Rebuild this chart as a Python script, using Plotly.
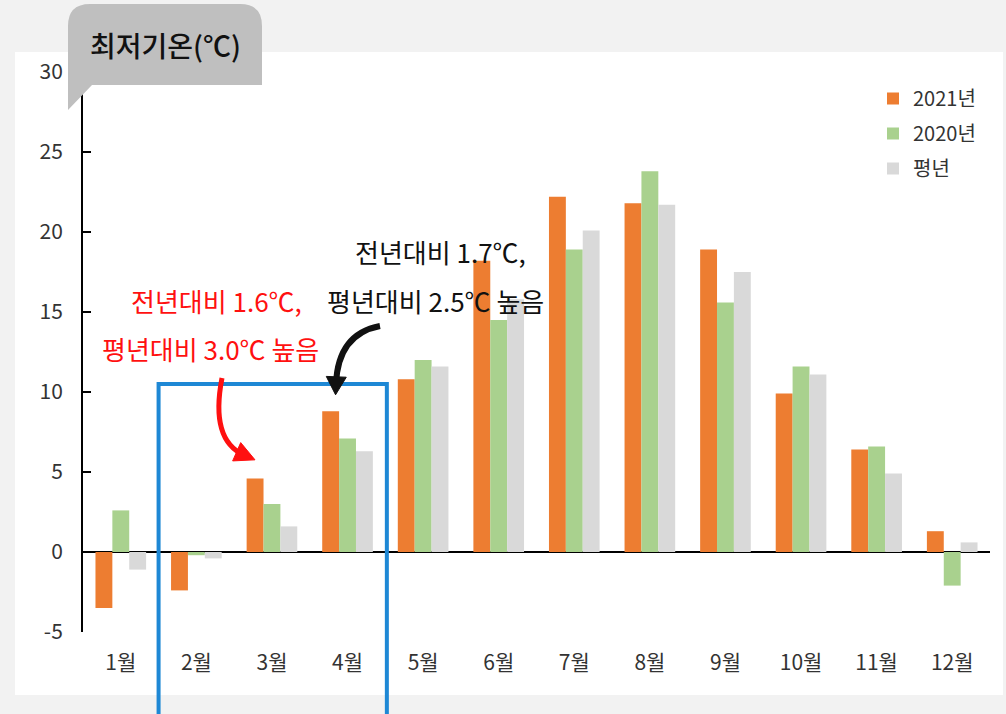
import plotly.graph_objects as go

# Monthly mean minimum temperature (°C)
months = ["1월", "2월", "3월", "4월", "5월", "6월", "7월", "8월", "9월", "10월", "11월", "12월"]
y2021 = [-3.5, -2.4, 4.6, 8.8, 10.8, 18.2, 22.2, 21.8, 18.9, 9.9, 6.4, 1.3]
y2020 = [2.6, -0.2, 3.0, 7.1, 12.0, 14.5, 18.9, 23.8, 15.6, 11.6, 6.6, -2.1]
normal = [-1.1, -0.4, 1.6, 6.3, 11.6, 15.8, 20.1, 21.7, 17.5, 11.1, 4.9, 0.6]

series_names = ["2021년", "2020년", "평년"]
colors = ["#ED7D31", "#A9D18E", "#D9D9D9"]
y_ticks = [-5, 0, 5, 10, 15, 20, 25, 30]

FONT = "Noto Sans CJK KR"
W, H = 1006, 714
ML, MR, MT, MB = 83, 16, 72, 82
PW, PH = W - ML - MR, H - MT - MB


def px(x):
    return (x - ML) / PW


def py(y):
    return (H - MB - y) / PH


fig = go.Figure()
for i, (name, vals) in enumerate(zip(series_names, [y2021, y2020, normal])):
    fig.add_trace(go.Bar(
        x=months, y=vals, name=name, marker_color=colors[i],
        marker_line_width=0, legendgroup=name,
    ))

shapes = []
# white panel behind the chart
shapes.append(dict(type="rect", xref="paper", yref="paper", layer="below",
                   x0=px(15), x1=px(1003), y0=py(695), y1=py(52),
                   fillcolor="white", line_width=0))

# speech-bubble title box
bubble = (f"M {px(262)},{py(85)} L {px(92)},{py(85)} L {px(68)},{py(110)} "
          f"L {px(68)},{py(26)} Q {px(68)},{py(4)} {px(90)},{py(4)} "
          f"L {px(240)},{py(4)} Q {px(262)},{py(4)} {px(262)},{py(26)} Z")
shapes.append(dict(type="path", xref="paper", yref="paper", path=bubble,
                   fillcolor="#BFBFBF", line_width=0))

# highlight box around Feb-Apr
shapes.append(dict(type="rect", xref="x", yref="paper",
                   x0=0.5, x1=3.52, y0=py(730), y1=py(384),
                   line=dict(color="#1E88D5", width=4), fillcolor="rgba(0,0,0,0)"))


def curved_arrow(p0, c, p1, color, width, head_len, head_w):
    path = f"M {px(p0[0])},{py(p0[1])} Q {px(c[0])},{py(c[1])} {px(p1[0])},{py(p1[1])}"
    out = [dict(type="path", xref="paper", yref="paper", path=path,
                line=dict(color=color, width=width))]
    dx, dy = p1[0] - c[0], p1[1] - c[1]
    n = (dx * dx + dy * dy) ** 0.5
    ux, uy = dx / n, dy / n
    tip = (p1[0] + ux * head_len * 0.6, p1[1] + uy * head_len * 0.6)
    base = (tip[0] - ux * head_len, tip[1] - uy * head_len)
    l = (base[0] - uy * head_w, base[1] + ux * head_w)
    r = (base[0] + uy * head_w, base[1] - ux * head_w)
    head = (f"M {px(tip[0])},{py(tip[1])} L {px(l[0])},{py(l[1])} "
            f"L {px(r[0])},{py(r[1])} Z")
    out.append(dict(type="path", xref="paper", yref="paper", path=head,
                    fillcolor=color, line=dict(color=color, width=1)))
    return out


shapes += curved_arrow((222, 378), (210, 440), (244, 455), "#FF1010", 5, 20, 10)
shapes += curved_arrow((380, 326), (338, 334), (336, 384), "#111111", 6, 18, 10)


def label(text, x, y, size, color, weight="normal"):
    return dict(text=text, x=px(x), y=py(y), xref="paper", yref="paper",
                xanchor="center", yanchor="middle", showarrow=False,
                font=dict(family=FONT, size=size, color=color, weight=weight))


annotations = [
    label("최저기온(℃)", 165, 45, 28, "#111111", 500),
    label("전년대비 1.6℃,", 216, 300, 26, "#FF1010"),
    label("평년대비 3.0℃ 높음", 210, 348, 26, "#FF1010"),
    label("전년대비 1.7℃,", 440, 252, 26, "#111111"),
    label("평년대비 2.5℃ 높음", 435, 300, 26, "#111111"),
]

fig.update_layout(
    width=W, height=H,
    margin=dict(l=ML, r=MR, t=MT, b=MB, pad=0),
    paper_bgcolor="#F2F2F2", plot_bgcolor="white",
    barmode="group", bargap=0.33, bargroupgap=0,
    font=dict(family=FONT, size=20, color="#333333"),
    shapes=shapes, annotations=annotations,
    legend=dict(x=px(873), y=py(79), xanchor="left", yanchor="top",
                bgcolor="rgba(0,0,0,0)", traceorder="grouped",
                tracegroupgap=6, font=dict(family=FONT, size=20, color="#333333"),
                itemwidth=30),
    showlegend=True,
)
fig.update_xaxes(
    type="category", showline=False, showgrid=False, ticks="",
    ticklabelstandoff=16, tickfont=dict(family=FONT, size=21, color="#333333"),
)
fig.update_yaxes(
    range=[-5, 30], tickvals=y_ticks, ticktext=[str(v) for v in y_ticks],
    showline=True, linecolor="black", linewidth=2,
    ticks="inside", ticklen=8, tickcolor="black", tickwidth=2,
    showgrid=False, zeroline=True, zerolinecolor="black", zerolinewidth=2,
    ticklabelstandoff=14, tickfont=dict(family=FONT, size=21, color="#333333"),
)

fig.write_html("out.html")
